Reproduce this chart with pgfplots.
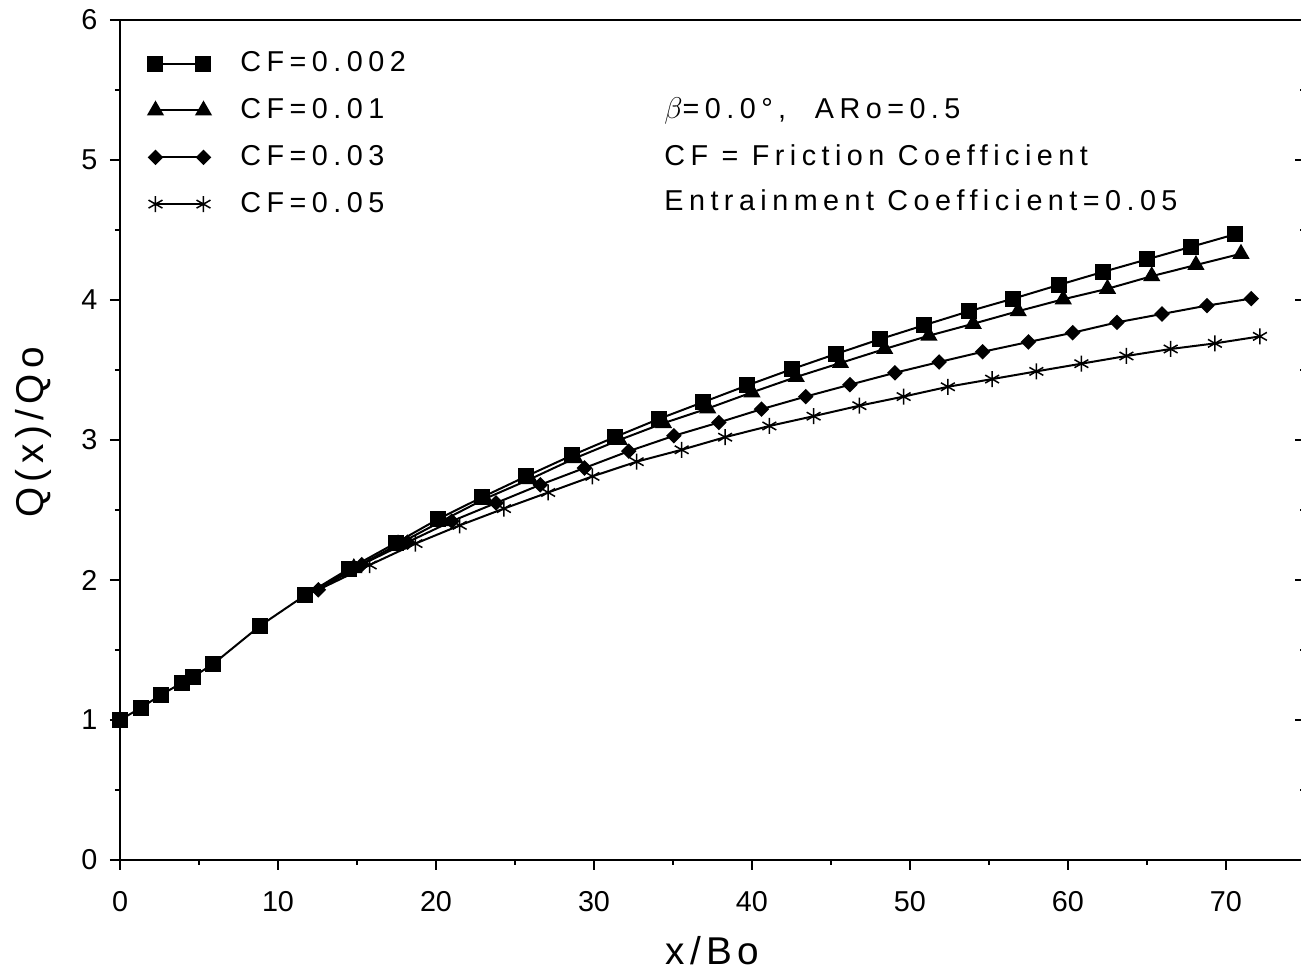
\documentclass[border=0pt]{standalone}
\usepackage{pgfplots}
\pgfplotsset{compat=1.18}
\usepackage{fontspec}
\setmainfont{Liberation Sans}
\newfontfamily\spaced{Liberation Sans}[LetterSpace=19]
\newfontfamily\lspaced{Liberation Sans}[LetterSpace=14]

\begin{document}
\begin{tikzpicture}
% right-hand inside ticks
\begin{axis}[scale only axis, width=474pt, height=336pt,
  xmin=0, xmax=75, ymin=0, ymax=6,
  hide x axis, axis y line*=right,
  ytick={0,1,...,6}, minor y tick num=1, yticklabels={},
  tick align=inside, major tick length=4pt, minor tick length=2pt,
  tick style={black, line width=0.6pt},
  axis line style={line width=0.8pt}]
\end{axis}
\begin{axis}[scale only axis, width=474pt, height=336pt,
  xmin=0, xmax=75, ymin=0, ymax=6,
  xtick={0,10,...,70}, ytick={0,1,...,6},
  minor x tick num=1, minor y tick num=1,
  xtick pos=bottom, ytick pos=left,
  tick align=outside,
  major tick length=4pt, minor tick length=2pt,
  tick style={black, line width=0.6pt},
  axis line style={line width=0.8pt},
  /pgf/number format/assume math mode=true,
  tick label style={font=\fontsize{11.5}{13}\selectfont},
  xticklabel style={yshift=-5pt},
  yticklabel style={xshift=-1.5pt},
  xlabel={x/Bo}, ylabel={Q(x)/Qo},
  every axis x label/.style={at={(axis description cs:0.5,0)}, anchor=base, yshift=-42pt, font=\fontsize{15.5}{18}\selectfont\lspaced},
  every axis y label/.style={at={(axis description cs:0,0.5)}, rotate=90, anchor=center, yshift=34.8pt, xshift=3pt, font=\fontsize{15.5}{18}\selectfont\lspaced},
  legend style={at={(axis description cs:0,1)}, anchor=north west, xshift=11.2pt, yshift=-12.5pt,
    draw=none, fill=none, inner sep=0pt, row sep=9.2pt, column sep=12pt,
    nodes={inner sep=0pt}, font=\fontsize{11.5}{13}\selectfont\spaced},
  legend cell align=left,
  legend image code/.code={\draw[mark repeat=1, mark phase=1, #1] plot coordinates {(0pt,0pt) (19.2pt,0pt)};},
]
\addplot[black, line width=0.8pt, mark=square*, mark size=2.8pt, mark options={solid, fill=black}] coordinates {
(0,1.0) (1.31,1.086) (2.6,1.18) (3.9,1.264) (4.6,1.307) (5.9,1.40) (8.88,1.674) (11.7,1.89) (14.5,2.08) (17.45,2.264) (20.15,2.436) (22.9,2.59) (25.7,2.74) (28.6,2.89) (31.3,3.02) (34.1,3.15) (36.9,3.27) (39.7,3.39) (42.55,3.507) (45.3,3.614) (48.1,3.72) (50.9,3.82) (53.75,3.92) (56.55,4.01) (59.4,4.107) (62.2,4.20) (65.0,4.29) (67.8,4.38) (70.6,4.47)
};
\addlegendentry{CF=0.002}
\addplot[black, line width=0.8pt, mark=triangle*, mark size=3.2pt, mark options={solid, fill=black}] coordinates {
(14.8,2.085) (17.6,2.255) (20.35,2.42) (23.1,2.58) (25.95,2.72) (28.8,2.87) (31.6,3.0) (34.4,3.12) (37.2,3.225) (40.0,3.34) (42.8,3.45) (45.6,3.55) (48.4,3.65) (51.2,3.745) (54.0,3.83) (56.85,3.92) (59.7,4.005) (62.5,4.08) (65.3,4.17) (68.1,4.25) (70.95,4.33)
};
\addlegendentry{CF=0.01}
\addplot[black, line width=0.8pt, mark=square*, mark size=1.8pt, mark options={solid, fill=black, rotate=45}] coordinates {
(12.55,1.93) (15.3,2.11) (18.2,2.27) (21.0,2.42) (23.8,2.55) (26.6,2.68) (29.4,2.80) (32.2,2.92) (35.06,3.03) (37.9,3.125) (40.6,3.22) (43.4,3.31) (46.2,3.395) (49.05,3.48) (51.85,3.557) (54.6,3.63) (57.5,3.70) (60.3,3.766) (63.1,3.84) (65.95,3.90) (68.8,3.96) (71.6,4.01)
};
\addlegendentry{CF=0.03}
\addplot[black, line width=0.8pt, mark=asterisk, mark size=3.2pt, mark options={solid, line width=0.6pt}] coordinates {
(15.8,2.107) (18.7,2.26) (21.5,2.39) (24.3,2.51) (27.1,2.625) (29.9,2.74) (32.7,2.845) (35.55,2.93) (38.3,3.02) (41.1,3.10) (43.9,3.17) (46.8,3.245) (49.6,3.31) (52.4,3.38) (55.2,3.435) (58.0,3.49) (60.85,3.545) (63.7,3.60) (66.5,3.65) (69.3,3.69) (72.15,3.74)
};
\addlegendentry{CF=0.05}
% connecting segments from the common branch
\addplot[black, line width=0.8pt, forget plot] coordinates {(11.7,1.89) (14.8,2.085)};
\addplot[black, line width=0.8pt, forget plot] coordinates {(11.7,1.89) (12.55,1.93)};
\addplot[black, line width=0.8pt, forget plot] coordinates {(12.55,1.93) (15.8,2.107)};
\node[anchor=base west, font=\fontsize{11.5}{13}\selectfont\spaced] at (axis cs:33.9,5.293) {$\beta$=0.0°,\quad ARo=0.5};
\node[anchor=base west, font=\fontsize{11.5}{13}\selectfont\spaced] at (axis cs:33.9,4.964) {CF = Friction Coefficient};
\node[anchor=base west, font=\fontsize{11.5}{13}\selectfont\spaced] at (axis cs:33.9,4.636) {Entrainment Coefficient=0.05};
\end{axis}
\pgfresetboundingbox
\path (-48pt,-45.6pt) rectangle (472.4pt,344pt);
\end{tikzpicture}
\end{document}
